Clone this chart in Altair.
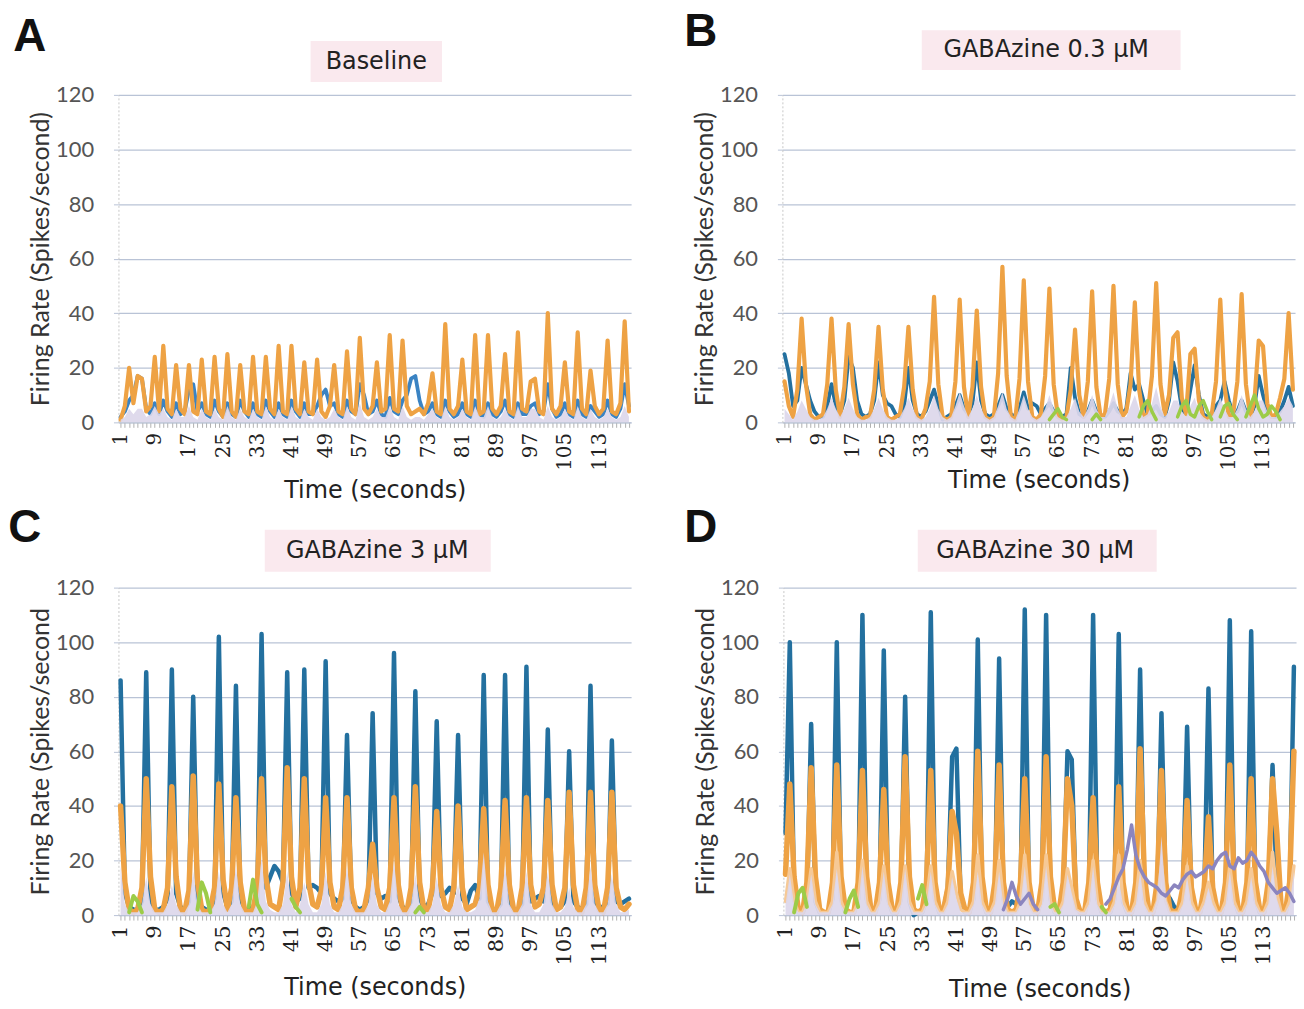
import altair as alt
import pandas as pd

T = list(range(1, 121))

# ---------------- Panel A : Baseline ----------------
A_orange = [1, 6, 20, 7, 17, 16, 4, 6, 24, 4,
            28, 5, 3, 21, 5, 3, 21, 4, 3, 23,
            4, 3, 24, 5, 2, 25, 4, 2, 21, 4,
            3, 24, 4, 3, 24, 5, 3, 28, 4, 3,
            28, 5, 3, 22, 4, 3, 23, 4, 2, 6,
            21, 4, 3, 26, 5, 3, 31, 5, 3, 6,
            22, 4, 5, 32, 5, 4, 30, 6, 3, 4,
            5, 3, 7, 18, 4, 3, 36, 5, 3, 6,
            23, 4, 3, 32, 3, 4, 32, 5, 3, 6,
            25, 4, 3, 33, 5, 4, 15, 16, 4, 3,
            40, 5, 3, 6, 22, 4, 3, 33, 5, 3,
            19, 6, 3, 5, 30, 4, 3, 7, 37, 4]
A_blue = [2, 4, 8, 10, 17, 16, 5, 3, 7, 3,
          8, 4, 2, 7, 3, 4, 12, 14, 4, 7,
          3, 2, 8, 4, 2, 7, 3, 2, 8, 4,
          2, 7, 3, 2, 8, 4, 2, 7, 3, 2,
          8, 4, 2, 7, 3, 3, 6, 10, 12, 6,
          7, 3, 2, 8, 4, 3, 14, 10, 3, 4,
          8, 3, 2, 9, 4, 3, 8, 10, 16, 17,
          8, 3, 4, 7, 3, 2, 8, 4, 2, 3,
          7, 3, 2, 8, 3, 2, 7, 3, 2, 4,
          8, 3, 2, 7, 3, 3, 6, 7, 3, 4,
          14, 5, 2, 3, 7, 3, 2, 8, 3, 2,
          6, 4, 2, 3, 8, 3, 2, 5, 14, 6]
A_pale = [1, 2, 5, 3, 5, 5, 2, 3, 6, 3,
          5, 2, 1, 5, 2, 2, 6, 2, 1, 5,
          2, 1, 5, 2, 1, 6, 2, 1, 5, 2,
          1, 5, 2, 1, 6, 2, 1, 5, 2, 1,
          6, 2, 1, 5, 2, 1, 5, 2, 1, 2,
          5, 2, 1, 6, 2, 1, 7, 2, 1, 2,
          5, 2, 2, 6, 2, 1, 6, 2, 1, 2,
          2, 1, 3, 5, 2, 1, 6, 2, 1, 2,
          5, 2, 1, 6, 2, 2, 6, 2, 1, 2,
          5, 2, 1, 6, 2, 2, 5, 5, 2, 1,
          6, 2, 1, 2, 5, 2, 1, 6, 2, 1,
          5, 2, 1, 2, 5, 2, 1, 2, 6, 2]

# ---------------- Panel B : GABAzine 0.3 uM ----------------
B_orange = [15, 6, 2, 12, 38, 14, 3, 1, 2, 3,
            14, 38, 12, 2, 13, 36, 14, 3, 1, 2,
            2, 12, 35, 12, 2, 1, 2, 3, 13, 35,
            12, 2, 1, 5, 15, 46, 14, 2, 1, 2,
            15, 45, 13, 2, 13, 41, 13, 2, 1, 2,
            18, 57, 17, 2, 1, 16, 52, 15, 2, 1,
            3, 17, 49, 14, 2, 1, 2, 12, 34, 10,
            2, 15, 48, 13, 2, 3, 16, 50, 14, 2,
            4, 14, 44, 12, 2, 3, 17, 51, 14, 3,
            10, 31, 33, 9, 3, 25, 27, 8, 2, 1,
            3, 15, 45, 13, 2, 3, 15, 47, 14, 2,
            8, 30, 28, 7, 2, 3, 9, 16, 40, 12]
B_blue = [25, 18, 6, 8, 20, 14, 8, 4, 2, 2,
          6, 14, 6, 3, 8, 24, 20, 8, 3, 2,
          3, 8, 22, 10, 7, 6, 3, 2, 6, 20,
          8, 3, 2, 4, 8, 12, 6, 1, 2, 3,
          6, 10, 5, 3, 7, 22, 8, 3, 2, 3,
          6, 10, 5, 3, 2, 5, 11, 5, 7, 6,
          3, 5, 7, 4, 2, 2, 3, 20, 9, 3,
          2, 4, 8, 4, 2, 2, 4, 7, 4, 3,
          5, 18, 12, 14, 8, 3, 4, 6, 3, 2,
          8, 22, 15, 5, 3, 12, 21, 10, 3, 2,
          3, 6, 8, 15, 8, 3, 4, 8, 4, 2,
          6, 17, 10, 4, 2, 2, 4, 8, 13, 6]
B_pale = [5, 3, 1, 4, 8, 5, 2, 1, 1, 2,
          5, 9, 5, 2, 5, 9, 5, 2, 1, 1,
          2, 5, 9, 5, 2, 1, 1, 2, 5, 9,
          5, 2, 1, 2, 5, 10, 5, 2, 1, 2,
          6, 11, 6, 2, 5, 10, 5, 2, 1, 2,
          6, 11, 5, 2, 1, 5, 10, 5, 2, 1,
          2, 5, 10, 5, 2, 1, 2, 5, 9, 4,
          2, 5, 10, 5, 2, 2, 6, 11, 5, 2,
          2, 6, 10, 5, 2, 3, 7, 13, 6, 2,
          4, 8, 8, 4, 2, 6, 9, 4, 2, 1,
          2, 5, 9, 5, 2, 2, 5, 10, 5, 2,
          4, 8, 8, 4, 2, 2, 4, 6, 9, 6]
B_green_t = [63, 64, 65, 66, 67, 73, 74, 75, 84, 85, 86, 87, 88,
             93, 94, 95, 96, 97, 98, 99, 100, 101, 103, 104, 105, 106, 107,
             109, 110, 111, 112, 113, 114, 115, 116, 117]
B_green_v = [1, 3, 5, 2, 1, 1, 3, 1, 2, 6, 8, 4, 1,
             2, 6, 8, 3, 2, 6, 8, 4, 1, 2, 6, 7, 3, 1,
             2, 6, 10, 5, 2, 3, 6, 4, 1]

# ---------------- Panel C : GABAzine 3 uM ----------------
C_blue = [86, 8, 3, 2, 2, 5, 89, 6, 2, 2,
          3, 6, 90, 8, 3, 2, 5, 80, 6, 3,
          2, 2, 6, 102, 8, 3, 5, 84, 7, 2,
          2, 3, 6, 103, 10, 14, 18, 16, 12, 89,
          8, 5, 6, 90, 10, 11, 10, 8, 93, 8,
          6, 5, 6, 66, 6, 3, 2, 3, 6, 74,
          8, 6, 7, 5, 96, 7, 3, 2, 5, 82,
          6, 3, 4, 8, 71, 7, 8, 10, 8, 66,
          6, 4, 9, 11, 6, 88, 5, 2, 2, 4,
          88, 5, 2, 2, 4, 91, 5, 6, 7, 5,
          68, 5, 2, 3, 5, 60, 5, 3, 2, 4,
          84, 5, 3, 3, 4, 64, 5, 4, 5, 6]
C_orange = [40, 12, 2, 1, 2, 10, 50, 14, 2, 1,
            2, 10, 47, 14, 2, 1, 9, 51, 12, 2,
            1, 2, 10, 48, 13, 2, 10, 43, 12, 2,
            1, 2, 10, 50, 14, 4, 3, 2, 12, 54,
            14, 3, 10, 50, 12, 4, 3, 9, 43, 12,
            3, 2, 10, 43, 10, 2, 1, 2, 10, 26,
            10, 3, 2, 10, 43, 11, 2, 1, 10, 47,
            12, 2, 2, 10, 38, 10, 3, 2, 10, 40,
            10, 2, 3, 4, 10, 39, 11, 2, 1, 10,
            42, 11, 2, 1, 10, 43, 11, 3, 4, 10,
            42, 11, 2, 3, 10, 45, 11, 2, 1, 10,
            45, 11, 2, 1, 10, 45, 10, 3, 2, 4]
C_pale = [18, 4, 1, 1, 1, 4, 14, 4, 1, 1,
          1, 4, 11, 4, 1, 1, 4, 16, 4, 1,
          1, 1, 4, 16, 4, 1, 4, 18, 4, 1,
          1, 1, 5, 21, 5, 2, 1, 1, 4, 16,
          4, 1, 4, 12, 4, 1, 1, 4, 16, 4,
          1, 1, 4, 18, 4, 1, 1, 1, 4, 15,
          4, 1, 1, 5, 20, 4, 1, 1, 4, 15,
          4, 1, 1, 4, 14, 4, 1, 1, 4, 11,
          3, 1, 1, 2, 6, 23, 5, 1, 1, 4,
          18, 4, 1, 1, 4, 16, 4, 1, 1, 4,
          16, 4, 1, 1, 3, 10, 3, 1, 1, 4,
          18, 4, 1, 1, 4, 15, 4, 1, 1, 2]
C_green_t = [3, 4, 5, 6, 19, 20, 21, 22, 31, 32, 33, 34, 41, 42, 43, 70, 71, 72]
C_green_v = [1, 7, 5, 1, 2, 12, 8, 1, 3, 13, 4, 1, 6, 3, 1, 1, 3, 1]

# ---------------- Panel D : GABAzine 30 uM ----------------
D_blue = [30, 100, 6, 1, 1, 5, 70, 5, 1, 1,
          1, 6, 100, 6, 1, 1, 1, 6, 110, 6,
          1, 1, 6, 97, 6, 1, 1, 6, 80, 5,
          0, 1, 1, 6, 111, 6, 1, 2, 10, 58,
          61, 5, 1, 1, 6, 101, 6, 1, 2, 6,
          94, 6, 3, 5, 4, 6, 112, 6, 2, 1,
          6, 110, 6, 1, 1, 8, 60, 57, 4, 1,
          1, 6, 110, 6, 1, 1, 1, 6, 103, 5,
          1, 1, 6, 90, 6, 2, 1, 6, 74, 8,
          6, 3, 2, 6, 69, 6, 2, 1, 6, 83,
          6, 2, 1, 6, 108, 6, 1, 1, 6, 104,
          6, 1, 1, 8, 55, 10, 3, 1, 6, 91]
D_orange = [15, 48, 14, 2, 1, 12, 54, 14, 2, 1,
            1, 12, 55, 14, 2, 1, 1, 12, 53, 14,
            2, 1, 12, 46, 12, 2, 1, 12, 58, 14,
            2, 1, 2, 12, 53, 12, 2, 2, 10, 38,
            30, 8, 2, 1, 12, 60, 14, 2, 1, 12,
            55, 12, 2, 1, 2, 12, 50, 12, 2, 1,
            12, 58, 14, 2, 1, 12, 50, 40, 6, 1,
            1, 12, 43, 12, 2, 1, 2, 12, 47, 12,
            2, 1, 12, 61, 14, 2, 1, 12, 53, 12,
            2, 1, 2, 10, 42, 10, 2, 1, 10, 36,
            10, 2, 1, 12, 55, 13, 2, 1, 12, 50,
            12, 2, 1, 12, 50, 30, 3, 1, 12, 60]
D_peach = [5, 17, 5, 1, 1, 5, 17, 5, 1, 1,
           1, 5, 23, 5, 1, 1, 1, 5, 20, 5,
           1, 1, 5, 18, 5, 1, 1, 5, 18, 5,
           1, 1, 1, 5, 18, 5, 1, 1, 5, 16,
           8, 2, 1, 1, 5, 22, 5, 1, 1, 5,
           20, 5, 1, 1, 1, 5, 22, 5, 1, 1,
           5, 22, 5, 1, 1, 5, 17, 10, 2, 1,
           1, 5, 20, 5, 1, 1, 1, 5, 22, 5,
           1, 1, 5, 20, 5, 1, 1, 5, 18, 5,
           1, 1, 1, 5, 18, 5, 1, 1, 5, 12,
           5, 1, 1, 5, 18, 5, 1, 1, 5, 17,
           5, 1, 1, 5, 23, 8, 1, 1, 5, 18]
D_pale = [4, 15, 4, 1, 1, 4, 15, 4, 1, 1,
          1, 4, 17, 4, 1, 1, 1, 4, 18, 4,
          1, 1, 4, 16, 4, 1, 1, 4, 17, 4,
          1, 1, 1, 4, 16, 4, 1, 1, 4, 14,
          6, 1, 1, 1, 4, 16, 4, 1, 1, 4,
          16, 4, 1, 1, 1, 4, 18, 4, 1, 1,
          4, 18, 4, 1, 1, 4, 15, 8, 2, 1,
          1, 4, 18, 4, 1, 1, 1, 4, 13, 4,
          1, 1, 4, 16, 4, 1, 1, 6, 29, 6,
          1, 1, 1, 4, 14, 4, 1, 1, 4, 10,
          4, 1, 1, 4, 16, 4, 1, 1, 4, 14,
          4, 1, 1, 4, 18, 6, 1, 1, 4, 16]
D_green_t = [3, 4, 5, 6, 15, 16, 17, 18, 32, 33, 34, 63, 64, 65, 75, 76]
D_green_v = [1, 8, 10, 3, 1, 6, 9, 3, 6, 11, 4, 3, 4, 1, 3, 1]
D_purple_t = [52, 53, 54, 55, 56, 57, 58, 59, 60] + list(range(76, 121))
D_purple_v = [2, 6, 12, 7, 4, 6, 8, 4, 2,
              4, 6, 10, 14, 17, 24, 33, 22, 17, 14,
              12, 11, 10, 8, 7, 9, 11, 10, 13, 15,
              16, 14, 15, 16, 18, 17, 20, 22, 23, 18,
              17, 21, 19, 20, 23, 21, 18, 16, 12, 10,
              8, 9, 10, 8, 5]

Y_TICKS = [0, 20, 40, 60, 80, 100, 120]

# ---------------- styling ----------------
TITLE_FONT = "DejaVu Sans"
YFONT = "Lato"
XFONT = "DejaVu Serif"
BLUE_A = "#3a83c3"
BLUE = "#23709f"
ORANGE = "#eea244"
PALE = "#dcd7ea"
PEACH = "#f6c996"
GREEN = "#9ccc48"
PURPLE = "#8b85bf"
PINK = "#fae9ee"


def full_df(values):
    return pd.DataFrame({"t": T, "v": values, "seg": 0})


def sparse_df(ts, vs):
    rows, seg = [], 0
    for i, (t, v) in enumerate(zip(ts, vs)):
        if i > 0 and t != ts[i - 1] + 1:
            seg += 1
        rows.append({"t": t, "v": v, "seg": seg})
    return pd.DataFrame(rows)


def make_panel(letter, title, ytitle, series, letter_xy, box, title_xy, xtitle_y, xlabel_size):
    xenc = alt.X(
        "t:O",
        scale=alt.Scale(domain=T, padding=0.5),
        axis=alt.Axis(
            title="Time (seconds)",
            labelExpr="(datum.value - 1) % 8 == 0 ? datum.label : ''",
            labelAngle=270, labelOverlap=False, labelFont=XFONT,
            labelFontSize=xlabel_size, labelColor="#222", labelPadding=5,
            tickSize=5, tickColor="#b0b0b0", tickWidth=1,
            domainColor="#b9c3d6", grid=False,
            titleFont=TITLE_FONT, titleFontSize=24, titleFontWeight="normal",
            titleColor="#222", titleY=xtitle_y, titleBaseline="middle",
        ),
    )
    yenc = alt.Y(
        "v:Q",
        scale=alt.Scale(domain=[0, 120], nice=False),
        axis=alt.Axis(
            title=ytitle, values=Y_TICKS, labelFont=YFONT, labelFontSize=22,
            labelColor="#555", labelPadding=20, tickSize=5, tickColor="#b9c3d6",
            domainColor="#c8c8c8", domainDash=[2, 2],
            gridColor="#b9c3d6", gridWidth=1.2,
            titleFont=YFONT, titleFontSize=25, titleFontWeight="normal",
            titleColor="#333", titlePadding=2,
        ),
    )
    one = pd.DataFrame({"s": [title], "l": [letter]})
    layers = [
        alt.Chart(one).mark_rect(color=PINK).encode(
            x=alt.value(box[0]), x2=alt.value(box[1]),
            y=alt.value(box[2]), y2=alt.value(box[3])),
        alt.Chart(one).mark_text(font=TITLE_FONT, fontSize=24, color="#222",
                                 align="center", baseline="middle").encode(
            x=alt.value(title_xy[0]), y=alt.value(title_xy[1]), text="s:N"),
        alt.Chart(one).mark_text(font="Liberation Sans", fontSize=46, fontWeight="bold",
                                 color="#111", align="center", baseline="middle").encode(
            x=alt.value(letter_xy[0]), y=alt.value(letter_xy[1]), text="l:N"),
    ]
    for kind, df, color, width in series:
        if kind == "area":
            layers.append(alt.Chart(df).mark_area(color=color, opacity=0.92,
                                                  interpolate="linear").encode(
                x=xenc, y=yenc))
        else:
            layers.append(alt.Chart(df).mark_line(color=color, strokeWidth=width,
                                                  strokeJoin="round", strokeCap="round").encode(
                x=xenc, y=yenc, detail="seg:N"))
    return alt.layer(*layers).properties(width=515, height=329)


YT = "Firing Rate (Spikes/second)"
YT2 = "Firing Rate (Spikes/second"

pA = make_panel("A", "Baseline", YT,
                [("line", full_df(A_blue), BLUE_A, 3.8),
                 ("line", full_df(A_orange), ORANGE, 4.2),
                 ("area", full_df(A_pale), PALE, 0)],
                (-89, -58), (193, 325, -54, -13), (259, -33), 68, 20)
pB = make_panel("B", "GABAzine 0.3 μM", YT,
                [("line", full_df(B_blue), BLUE, 3.8),
                 ("line", full_df(B_orange), ORANGE, 4.2),
                 ("area", full_df(B_pale), PALE, 0),
                 ("line", sparse_df(B_green_t, B_green_v), GREEN, 3.5)],
                (-82, -63), (140, 400, -65, -25), (265, -45), 58, 20)
pC = make_panel("C", "GABAzine 3 μM", YT2,
                [("line", full_df(C_blue), BLUE, 4.5),
                 ("line", full_df(C_orange), ORANGE, 5.5),
                 ("area", full_df(C_pale), PALE, 0),
                 ("line", sparse_df(C_green_t, C_green_v), GREEN, 4)],
                (-94, -60), (147, 374, -58, -16), (260, -37), 73, 21)
pD = make_panel("D", "GABAzine 30 μM", YT2,
                [("line", full_df(D_blue), BLUE, 4.5),
                 ("line", full_df(D_orange), ORANGE, 5.5),
                 ("line", full_df(D_peach), PEACH, 3.5),
                 ("area", full_df(D_pale), PALE, 0),
                 ("line", sparse_df(D_green_t, D_green_v), GREEN, 4),
                 ("line", sparse_df(D_purple_t, D_purple_v), PURPLE, 3.5)],
                (-83, -60), (135, 375, -58, -16), (253, -37), 75, 21)

row1 = alt.hconcat(pA, pB, spacing=45)
row2 = alt.hconcat(pC, pD, spacing=45)
chart = (
    alt.vconcat(row1, row2, spacing=3)
    .properties(padding={"left": 8, "top": 7, "right": 0, "bottom": 0},
                background="white")
    .configure_view(stroke=None)
)
chart.save("out.html", embed_options={"renderer": "svg", "actions": False})
